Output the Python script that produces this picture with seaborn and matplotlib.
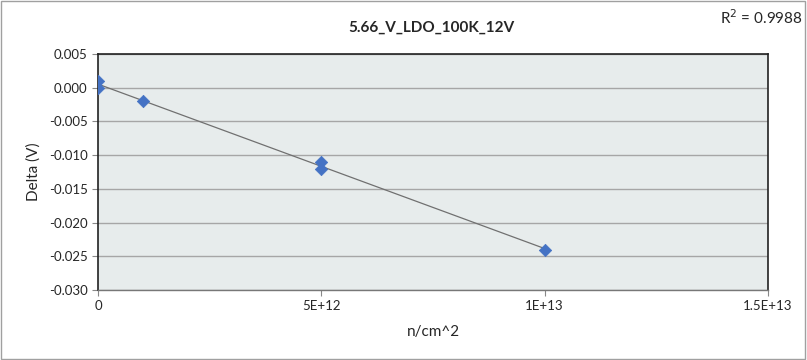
import numpy as np
import matplotlib
matplotlib.use('Agg')
import matplotlib.pyplot as plt
import seaborn as sns

# data
fluence = [0, 0, 1e12, 5e12, 5e12, 1e13]
delta_v = [0.001, 0.000, -0.002, -0.011, -0.012, -0.024]
r_squared = 0.9988  # as printed on the chart

x_ticks = [0, 5e12, 1e13, 1.5e13]
x_tick_labels = ['0', '5E+12', '1E+13', '1.5E+13']
y_ticks = [0.005, 0.0, -0.005, -0.010, -0.015, -0.020, -0.025, -0.030]

sns.set_style('white')
plt.rcParams['font.family'] = ['Lato', 'DejaVu Sans']

fig = plt.figure(figsize=(8.07, 3.6), dpi=100)
ax = fig.add_axes([0.1214, 0.1944, 0.8303, 0.6556])
ax.set_facecolor('#E7ECEC')

# linear trendline like the spreadsheet
sns.regplot(x=fluence, y=delta_v, ax=ax, scatter=False, ci=None,
            line_kws={'color': '#707070', 'lw': 0.9})
sns.scatterplot(x=fluence, y=delta_v, ax=ax, marker='D', s=40,
                color='#4472C4', edgecolor='#4472C4', zorder=3)

ax.set_xlim(0, 1.5e13)
ax.set_ylim(-0.030, 0.005)
ax.set_xticks(x_ticks)
ax.set_xticklabels(x_tick_labels)
ax.set_yticks(y_ticks)
ax.set_yticklabels(['%.3f' % v for v in y_ticks])
ax.tick_params(axis='both', labelsize=9.5, length=4, width=0.8,
               color='#888888', direction='out', left=True, bottom=True)
ax.yaxis.grid(True, color='#A6A6A6', lw=1.0)
ax.set_axisbelow(True)
for s in ['top', 'right', 'left']:
    ax.spines[s].set_color('#222222')
    ax.spines[s].set_linewidth(1.2)
ax.spines['bottom'].set_color('#777777')
ax.spines['bottom'].set_linewidth(1.0)

ax.set_xlabel('n/cm^2', fontsize=11, labelpad=9)
ax.set_ylabel('Delta (V)', fontsize=11, labelpad=6)
fig.text(0.535, 0.922, '5.66_V_LDO_100K_12V', ha='center', va='center',
         fontsize=11, fontweight='bold')
fig.text(0.995, 0.95, 'R$^2$ = %.4f' % r_squared, ha='right', va='center', fontsize=11)

border = plt.Rectangle((0.001, 0.003), 0.997, 0.993, transform=fig.transFigure,
                       fill=False, edgecolor='#A0A0A0', lw=1.0)
fig.patches.append(border)

fig.savefig('out.png', dpi=100)
